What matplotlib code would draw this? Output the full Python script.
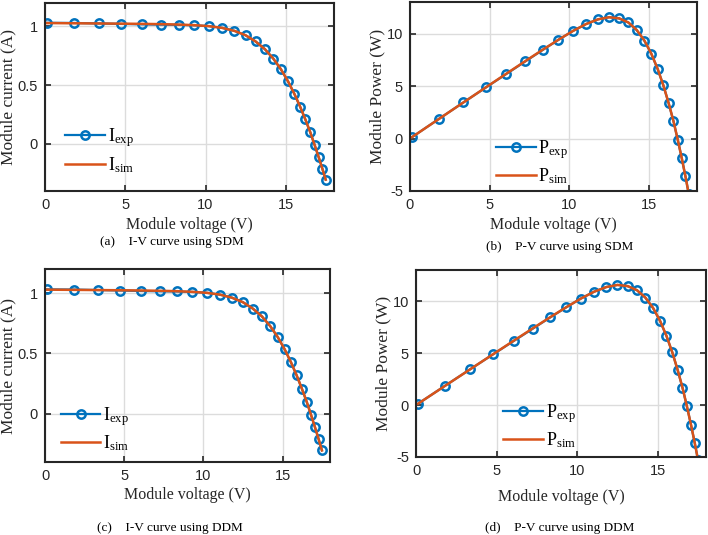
import matplotlib
matplotlib.use('Agg')
import matplotlib.pyplot as plt

# Datos medidos del modulo (tension, corriente y potencia)
voltage = [0.1248, 1.8093, 3.3511, 4.7622, 6.0538, 7.2364, 8.3189, 9.3097, 10.2163,
           11.0449, 11.8018, 12.4929, 13.1231, 13.6983, 14.2221, 14.6995, 15.1346,
           15.5311, 15.8929, 16.2229, 16.5241, 16.7987, 17.0499, 17.2793, 17.4885]
current_exp = [1.0315, 1.0300, 1.0260, 1.0220, 1.0180, 1.0155, 1.0140, 1.0100, 1.0035,
               0.9880, 0.9630, 0.9255, 0.8725, 0.8075, 0.7265, 0.6345, 0.5345,
               0.4275, 0.3185, 0.2085, 0.1010, -0.0080, -0.1110, -0.2090, -0.3030]
current_sim = [1.0291, 1.0274, 1.0257, 1.0241, 1.0223, 1.0199, 1.0165, 1.0112, 1.0028,
               0.9880, 0.9627, 0.9256, 0.8726, 0.8073, 0.7276, 0.6364, 0.5353,
               0.4288, 0.3188, 0.2083, 0.1017, -0.0081, -0.1110, -0.2093, -0.3036]
power_exp = [0.1287, 1.8636, 3.4382, 4.8670, 6.1628, 7.3486, 8.4354, 9.4028, 10.2521,
             10.9124, 11.3651, 11.5622, 11.4499, 11.0614, 10.3324, 9.3268, 8.0894,
             6.6395, 5.0619, 3.3825, 1.6689, -0.1344, -1.8925, -3.6114, -5.2990]
power_sim = [0.1284, 1.8589, 3.4372, 4.8770, 6.1888, 7.3804, 8.4562, 9.4140, 10.2449,
             10.9124, 11.3616, 11.5634, 11.4512, 11.0586, 10.3480, 9.3548, 8.1016,
             6.6597, 5.0667, 3.3792, 1.6805, -0.1361, -1.8925, -3.6166, -5.3095]

x_ticks = [0, 5, 10, 15]
iv_ticks = [0, 0.5, 1]
pv_ticks = [-5, 0, 5, 10]

BLUE = '#0072BD'
ORANGE = '#D95319'
SANS = 'Liberation Sans'
SERIF = 'Liberation Serif'

fig = plt.figure(figsize=(7.08, 5.35), dpi=100)

# posiciones de los ejes [izq, abajo, ancho, alto] en fraccion de figura
boxes = {
    'a': [0.0636, 0.643, 0.408, 0.3514],
    'b': [0.579, 0.643, 0.4054, 0.353],
    'c': [0.0636, 0.1364, 0.4025, 0.3607],
    'd': [0.5876, 0.1458, 0.410, 0.3495],
}

panels = [
    ('a', voltage, current_exp, current_sim, 'I', 'Module current (A)', (-0.4, 1.2), iv_ticks,
     (0.07, 0.215), '(a)    I-V curve using SDM', (0.243, 0.548), 3.5),
    ('b', voltage, power_exp, power_sim, 'P', 'Module Power (W)', (-5, 13), pv_ticks,
     (0.30, 0.151), '(b)    P-V curve using SDM', (0.790, 0.538), 3.5),
    ('c', voltage, current_exp, current_sim, 'I', 'Module current (A)', (-0.4, 1.2), iv_ticks,
     (0.055, 0.17), '(c)    I-V curve using DDM', (0.240, 0.013), 3),
    ('d', voltage, power_exp, power_sim, 'P', 'Module Power (W)', (-5, 13), pv_ticks,
     (0.30, 0.167), '(d)    P-V curve using DDM', (0.790, 0.013), 8),
]

for key, x, y_exp, y_sim, sym, ylabel, ylim, yticks, leg_pos, caption, cap_pos, xpad in panels:
    ax = fig.add_axes(boxes[key])
    ax.plot(x, y_exp, color=BLUE, lw=1.6, marker='o', ms=6, mfc='none', mew=1.8,
            label=r'$\mathregular{%s_{exp}}$' % sym)
    ax.plot(x, y_sim, color=ORANGE, lw=1.8, label=r'$\mathregular{%s_{sim}}$' % sym)

    ax.set_xlim(0, 18)
    ax.set_ylim(*ylim)
    ax.set_xticks(x_ticks)
    ax.set_yticks(yticks)
    ax.set_yticklabels([('%g' % t) for t in yticks])
    ax.grid(True, color='#dcdcdc', lw=1.0)
    ax.set_axisbelow(True)
    ax.tick_params(direction='in', top=True, right=True, length=4, width=1.2,
                   labelsize=10.5, pad=5, colors='#262626', labelcolor='#262626')
    for lab in ax.get_xticklabels() + ax.get_yticklabels():
        lab.set_family(SANS)
    for s in ax.spines.values():
        s.set_linewidth(1.5)
        s.set_color('#262626')

    ax.set_xlabel('Module voltage (V)', fontsize=11.5, family=SERIF, labelpad=xpad,
                  color='#262626')
    ax.set_ylabel(ylabel, fontsize=12.5, family=SERIF, labelpad=1, color='#262626')

    leg = ax.legend(loc='center left', bbox_to_anchor=leg_pos, frameon=False,
                    prop={'family': SERIF, 'size': 13}, handlelength=2.2,
                    handletextpad=0.15, labelspacing=0.3, borderpad=0, borderaxespad=0)

    fig.text(cap_pos[0], cap_pos[1], caption, ha='center', va='center',
             fontsize=9.5, family=SERIF)

plt.savefig('out.png', dpi=100)
